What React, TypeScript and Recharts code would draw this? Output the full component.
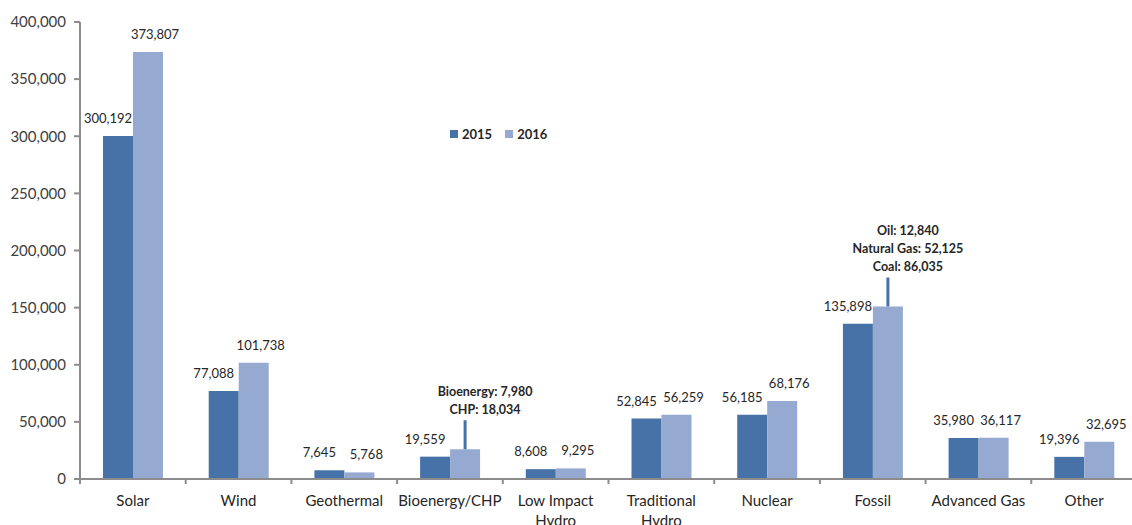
import React from "react";
import { BarChart, Bar, XAxis, YAxis, LabelList } from "recharts";

const categories = [
  "Solar",
  "Wind",
  "Geothermal",
  "Bioenergy/CHP",
  "Low Impact\nHydro",
  "Traditional\nHydro",
  "Nuclear",
  "Fossil",
  "Advanced Gas",
  "Other",
];

const values2015 = [300192, 77088, 7645, 19559, 8608, 52845, 56185, 135898, 35980, 19396];
// null where the 2016 bar is built from a breakdown below
const values2016: (number | null)[] = [373807, 101738, 5768, null, 9295, 56259, 68176, null, 36117, 32695];

const bioenergyParts: [string, number][] = [
  ["Bioenergy", 7980],
  ["CHP", 18034],
];
const fossilParts: [string, number][] = [
  ["Oil", 12840],
  ["Natural Gas", 52125],
  ["Coal", 86035],
];

const breakdowns: Record<string, [string, number][]> = {
  "Bioenergy/CHP": bioenergyParts,
  Fossil: fossilParts,
};

const yTicks = [0, 50000, 100000, 150000, 200000, 250000, 300000, 350000, 400000];

const COLOR_2015 = "#4672a7";
const COLOR_2016 = "#95a9d1";
const TEXT = "#262626";
const AXIS = "#8c8c8c";
const FONT = "Lato, 'Open Sans', sans-serif";

const fmt = (v: number) => v.toLocaleString("en-US");

const data = categories.map((name, i) => {
  const parts = breakdowns[name];
  const v16 = parts ? parts.reduce((s, p) => s + p[1], 0) : values2016[i];
  return { name, y2015: values2015[i], y2016: v16 };
});

function CategoryTick(props: any) {
  const { x, y, payload } = props;
  const half = payload.offset ?? 52.85;
  const lines = String(payload.value).split("\n");
  return (
    <g>
      <line x1={x - half} x2={x - half} y1={y} y2={y + 5} stroke={AXIS} strokeWidth={2} />
      {lines.map((ln, k) => (
        <text
          key={k}
          x={x}
          y={y + 27 + k * 20}
          textAnchor="middle"
          fill={TEXT}
          fontSize={15}
          fontFamily={FONT}
        >
          {ln}
        </text>
      ))}
    </g>
  );
}

function label2015(props: any) {
  const { x, y, width, value } = props;
  return (
    <text x={x + width / 2 - 10} y={y - 13} textAnchor="middle" fill={TEXT} fontSize={13} fontFamily={FONT}>
      {fmt(value)}
    </text>
  );
}

function label2016(props: any) {
  const { x, y, width, value, index } = props;
  const cx = x + width / 2;
  const parts = breakdowns[categories[index]];
  if (!parts) {
    return (
      <text x={cx + 7} y={y - 13} textAnchor="middle" fill={TEXT} fontSize={13} fontFamily={FONT}>
        {fmt(value)}
      </text>
    );
  }
  // leader line with the breakdown stacked above it
  const top = y - 29;
  return (
    <g>
      <line x1={cx} x2={cx} y1={y} y2={top} stroke={COLOR_2015} strokeWidth={3} />
      {parts.map(([nm, v], k) => (
        <text
          key={nm}
          x={cx + 20}
          y={top - 6 - (parts.length - 1 - k) * 18}
          textAnchor="middle"
          fill={TEXT}
          fontSize={12.5}
          fontWeight={700}
          fontFamily={FONT}
        >
          {`${nm}: ${fmt(v)}`}
        </text>
      ))}
    </g>
  );
}

export default function App() {
  return (
    <div
      style={{
        position: "absolute",
        left: 0,
        top: 0,
        width: 1132,
        height: 525,
        overflow: "hidden",
        background: "#fff",
        fontFamily: FONT,
      }}
    >
      <BarChart
        width={1140}
        height={525}
        data={data}
        margin={{ top: 22, right: 3, left: 0, bottom: 0 }}
        barGap={0}
        barSize={30}
      >
        <XAxis
          dataKey="name"
          interval={0}
          height={46}
          tickLine={false}
          tickSize={0}
          tickMargin={0}
          axisLine={{ stroke: AXIS, strokeWidth: 2 }}
          tick={<CategoryTick />}
        />
        <YAxis
          width={80}
          domain={[0, 400000]}
          ticks={yTicks}
          tickFormatter={fmt}
          tickSize={6}
          tickMargin={8}
          axisLine={{ stroke: AXIS, strokeWidth: 2 }}
          tickLine={{ stroke: AXIS, strokeWidth: 2 }}
          tick={{ fill: "#404040", fontSize: 15, fontFamily: FONT }}
        />
        <Bar dataKey="y2015" fill={COLOR_2015} isAnimationActive={false}>
          <LabelList dataKey="y2015" content={label2015} />
        </Bar>
        <Bar dataKey="y2016" fill={COLOR_2016} isAnimationActive={false}>
          <LabelList dataKey="y2016" content={label2016} />
        </Bar>
      </BarChart>
      <div
        style={{
          position: "absolute",
          left: 450,
          top: 126,
          display: "flex",
          alignItems: "center",
          fontSize: 13,
          fontWeight: 700,
          color: TEXT,
        }}
      >
        <span style={{ width: 8, height: 8, background: COLOR_2015, marginRight: 4 }} />
        <span style={{ marginRight: 13 }}>2015</span>
        <span style={{ width: 8, height: 8, background: COLOR_2016, marginRight: 4 }} />
        <span>2016</span>
      </div>
    </div>
  );
}
